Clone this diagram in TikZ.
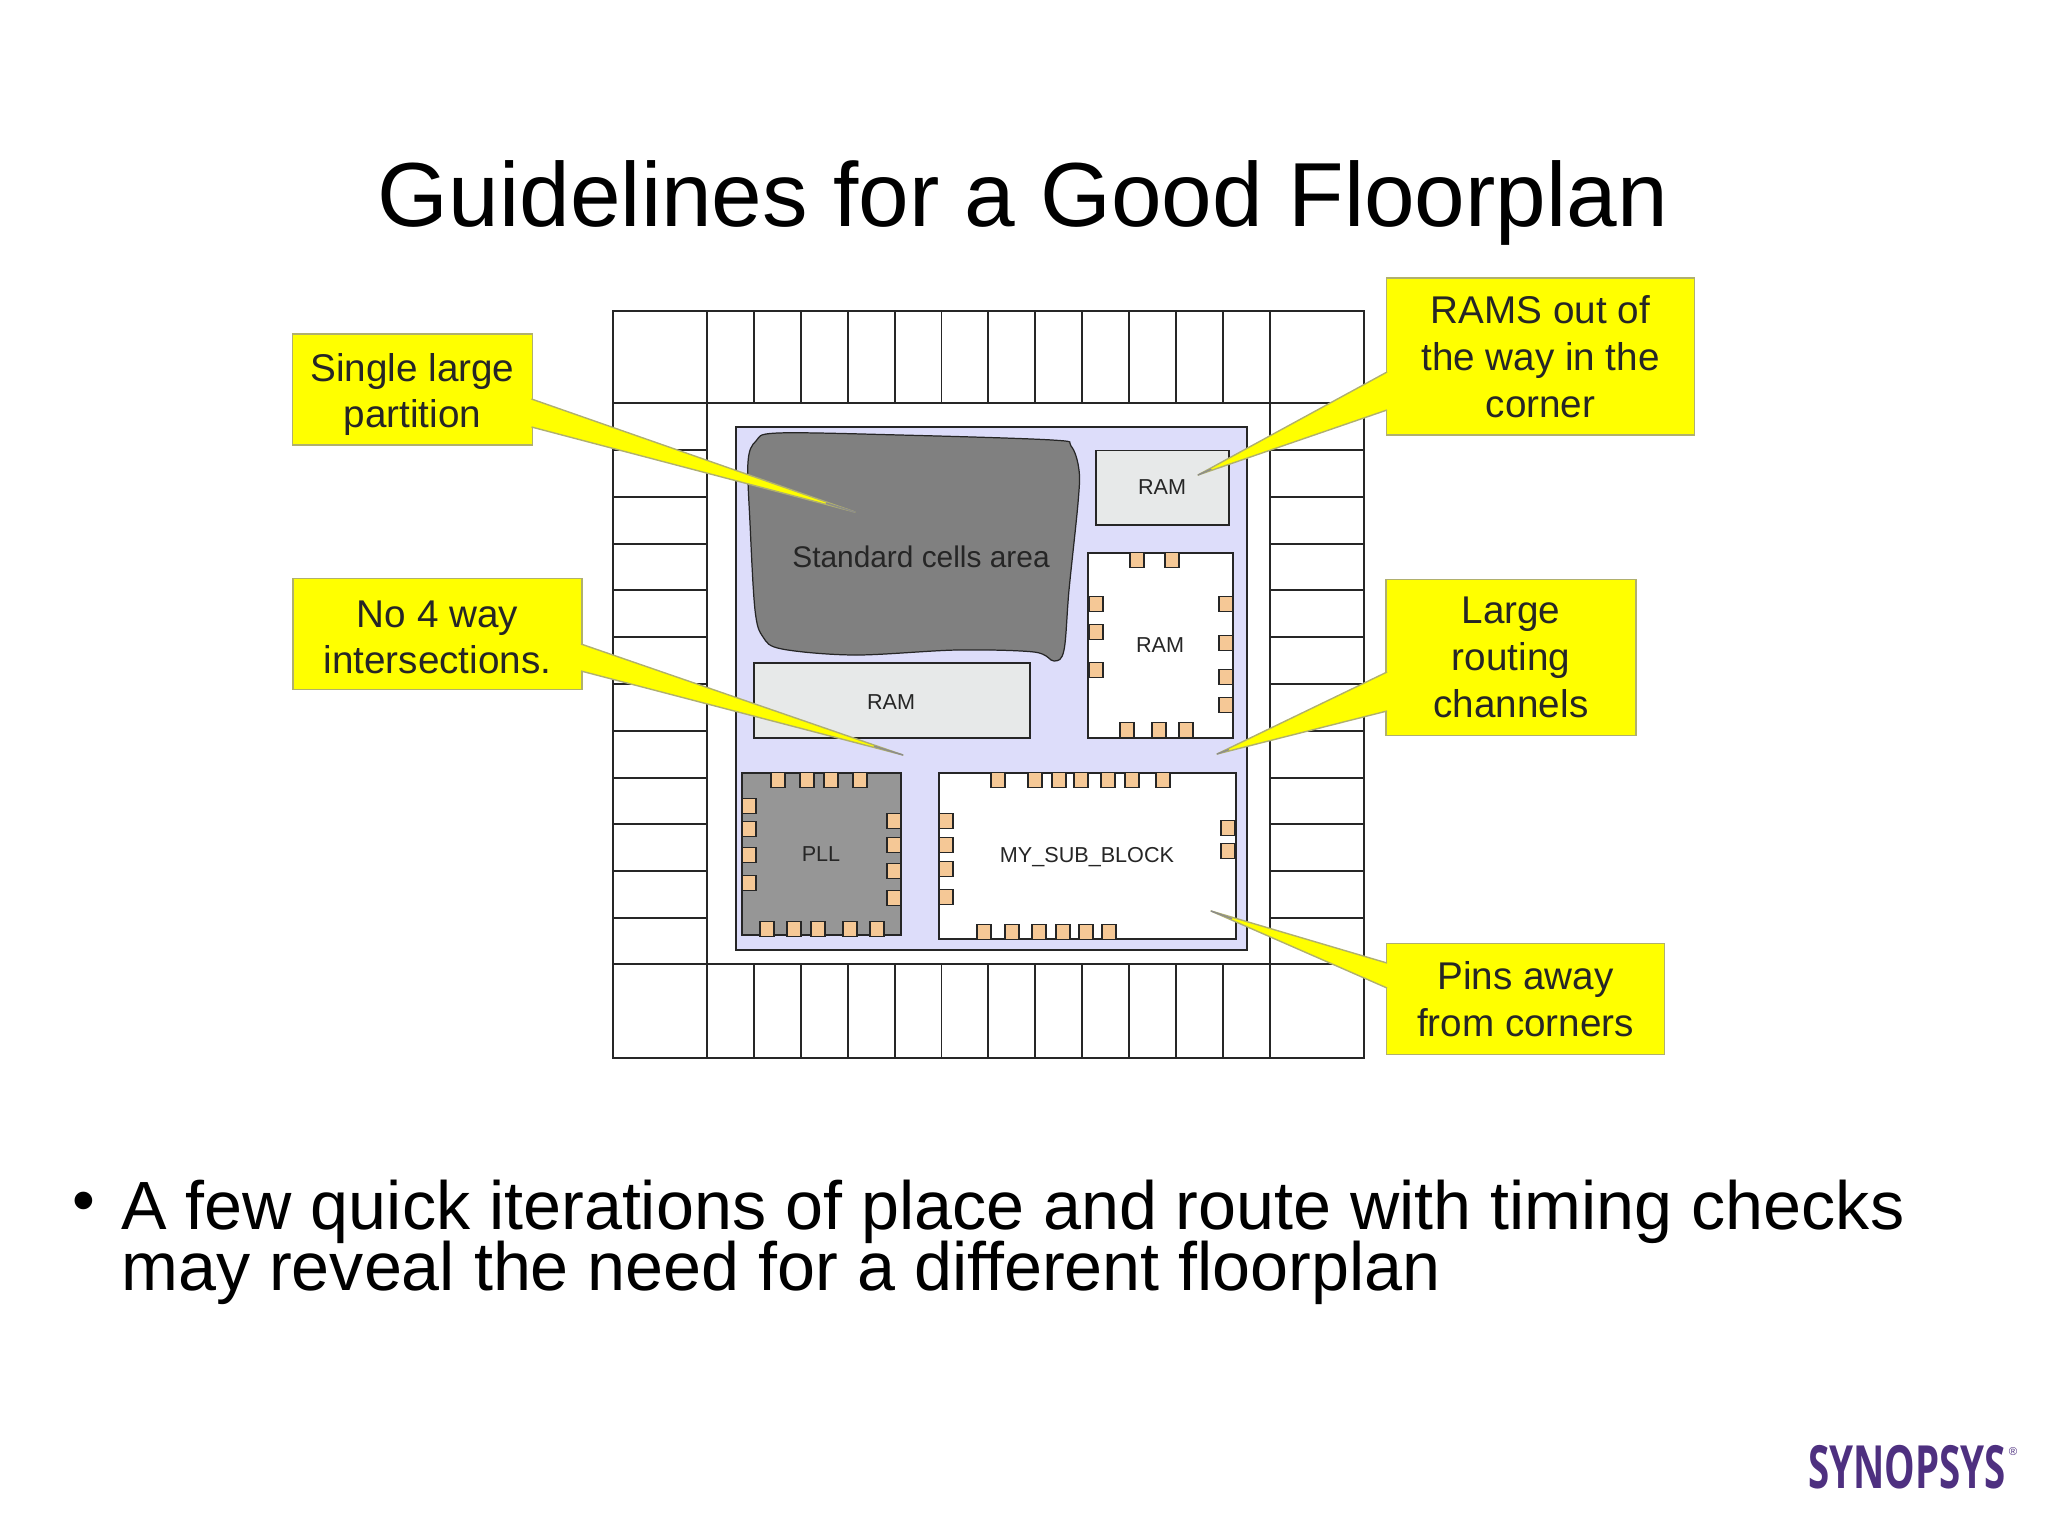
\documentclass[tikz,border=0pt]{standalone}
\usepackage{fontspec}
\usepackage{graphicx}
\usetikzlibrary{calc}
\setmainfont{Liberation Sans}
\newfontfamily\logofont{Open Sans}
\setlength{\lineskiplimit}{-100pt}
\definecolor{corefill}{RGB}{221,221,250}
\definecolor{ramfill}{RGB}{231,233,233}
\definecolor{blobfill}{RGB}{128,128,128}
\definecolor{pllfill}{RGB}{150,150,150}
\definecolor{padfill}{RGB}{245,200,150}
\definecolor{notefill}{RGB}{255,255,0}
\definecolor{noteedge}{RGB}{176,176,110}
\definecolor{logopurple}{RGB}{78,48,128}
\tikzset{
	gridline/.style={draw=black!85,line width=1.05pt},
	blockbox/.style={draw=black!85,line width=1.05pt},
	padbox/.style={draw=black!85,line width=0.9pt,fill=padfill,inner sep=0pt,minimum width=8pt,minimum height=8.6pt},
	notebox/.style={draw=noteedge,line width=0.9pt,fill=notefill,inner sep=0pt,align=center,text=black!85,font=\fontsize{22}{26.7}\selectfont},
	wedge/.style={draw=noteedge,line width=0.8pt,fill=notefill,line join=round},
	tipline/.style={draw=black!45,line width=0.8pt},
	blocktext/.style={inner sep=0pt,text=black!85,font=\fontsize{12.3}{14}\selectfont}
}
\begin{document}
\begin{tikzpicture}[x=0.02cm,y=-0.02cm]
		\useasboundingbox (0,0) rectangle (2048,1536);

		\node[anchor=base,inner sep=0pt,font=\fontsize{51.8}{60}\selectfont] (title) at (1023,226) {Guidelines for a Good Floorplan};

		% pad ring
		\draw[gridline] (613,311) rectangle (1364,1058);
		\draw[gridline] (613,403) -- (1364,403);
		\draw[gridline] (613,964) -- (1364,964);
		\foreach \i in {0,...,12} {
			\draw[gridline] ({707+\i*46.9},311) -- ({707+\i*46.9},403);
			\draw[gridline] ({707+\i*46.9},964) -- ({707+\i*46.9},1058);
		}
		\draw[gridline] (707,403) -- (707,964);
		\draw[gridline] (1270,403) -- (1270,964);
		\foreach \i in {0,...,10} {
			\draw[gridline] (613,{450+\i*46.8}) -- (707,{450+\i*46.8});
			\draw[gridline] (1270,{450+\i*46.8}) -- (1364,{450+\i*46.8});
		}

		% core
		\draw[blockbox,fill=corefill] (736,427) rectangle (1247,950);
		\draw[blockbox,fill=blobfill,line width=0.7pt] plot[smooth cycle,tension=0.55] coordinates {
			(748,462) (756,441) (778,433) (900,435) (1052,440) (1071,446) (1079,470) (1078,503) (1069,590)
			(1064,650) (1054,661) (1034,652) (957,650) (855,655) (782,649) (763,637) (755,610) (750,523)};
		\node[blocktext,font=\fontsize{17}{20}\selectfont] (cells) at (921,557) {Standard cells area};

		% blocks
		\node[blockbox,fill=ramfill,minimum width=75.4pt,minimum height=42.2pt,inner sep=0pt] (ramA) at (1162.5,487.5) {};
		\node[blocktext] at (1162,487) {RAM};
		\draw[blockbox,fill=white] (1088,553) rectangle (1233,738);
		\node[blocktext] (ramB) at (1160,645) {RAM};
		\draw[blockbox,fill=ramfill] (754,663) rectangle (1030,738);
		\node[blocktext] (ramC) at (891,702) {RAM};
		\draw[blockbox,fill=pllfill] (742,773) rectangle (901,935);
		\node[blocktext] (pll) at (821,854) {PLL};
		\draw[blockbox,fill=white] (939,773) rectangle (1236,939);
		\node[blocktext] (subblock) at (1087,857) {MY\_SUB\_BLOCK};

		% pads
		\foreach \x/\y in {1137/560,1172/560,1096/604,1096/632,1096/670,1226/604,1226/643,1226/677,1226/705,1127/730,1159/730,1186/730}
			\node[padbox] at (\x,\y) {};
		\foreach \x/\y in {778/780,807/780,831/780,860/780,749/806,749/829,749/855,749/883,894/821,894/845,894/871,894/898,767/929,794/929,818/929,850/929,877/929}
			\node[padbox] at (\x,\y) {};
		\foreach \x/\y in {998/780,1035/780,1059/780,1081/780,1108/780,1132/780,1163/780,946/821,946/845,946/869,946/897,1228/828,1228/851,984/932,1012/932,1039/932,1063/932,1086/932,1109/932}
			\node[padbox] at (\x,\y) {};

		% notes
		\node[notebox,minimum width=136.6pt,minimum height=63pt] (partition) at (412.5,389.5) {\rule{0pt}{21.6pt}Single large\\partition};
		\node[notebox,minimum width=164.4pt,minimum height=63pt] (fourway) at (437.5,634) {\rule{0pt}{19pt}No 4 way\\intersections.};
		\node[notebox,minimum width=175.4pt,minimum height=89.6pt] (rams) at (1540.5,356.5) {RAMS out of\\the way in the\\corner};
		\node[notebox,minimum width=142.2pt,minimum height=88.8pt] (channels) at (1511,657.5) {Large\\routing\\channels};
		\node[notebox,minimum width=158.2pt,minimum height=63pt] (corners) at (1525.5,999) {Pins away\\from corners};

		\coordinate (partitiontip) at (855,512);
		\coordinate (fourwaytip) at (903,755);
		\coordinate (ramstip) at (1198,475);
		\coordinate (channelstip) at (1217,754);
		\coordinate (cornerstip) at (1211,911);

		\draw[wedge] (531.5,399) -- (partitiontip) -- (531.5,427);
		\draw[wedge] (581,644) -- (fourwaytip) -- (581,671);
		\draw[wedge] (1387,372) -- (ramstip) -- (1387,410);
		\draw[wedge] (1387,672) -- (channelstip) -- (1387,711);
		\draw[wedge] (1387,963) -- (cornerstip) -- (1387,988);

		\draw[tipline] ($(partitiontip)!0.09!(531.5,413)$) -- (partitiontip);
		\draw[tipline] ($(fourwaytip)!0.09!(581,657)$) -- (fourwaytip);
		\draw[tipline] ($(ramstip)!0.07!(1387,391)$) -- (ramstip);
		\draw[tipline] ($(channelstip)!0.07!(1387,691)$) -- (channelstip);
		\draw[tipline] ($(cornerstip)!0.12!(1387,975)$) -- (cornerstip);

		% bullet
		\node[inner sep=0pt,font=\fontsize{37}{40}\selectfont] (dot) at (84,1207) {•};
		\node[anchor=north west,inner sep=0pt,align=left,font=\fontsize{38.85}{34.8}\selectfont] (body) at (121,1180) {A few quick iterations of place and route with timing checks\\may reveal the need for a different floorplan};

		% logo
		\node[inner sep=0pt,text=logopurple] (logo) at (1907,1467) {\scalebox{0.684}[1.06]{\logofont\bfseries\fontsize{32}{32}\selectfont SYNOPSYS}};
		\node[inner sep=0pt,text=logopurple,font=\fontsize{6.5}{6.5}\selectfont] (reg) at (2013,1452) {®};
	\end{tikzpicture}
\end{document}
